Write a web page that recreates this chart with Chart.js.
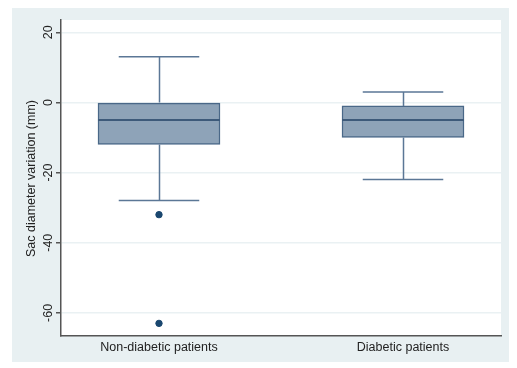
<!DOCTYPE html>
<html>
<head>
<meta charset="utf-8">
<script src="https://cdn.jsdelivr.net/npm/chart.js@4"></script>
<style>
  html, body { margin: 0; padding: 0; background: #ffffff; }
  #panel {
    position: absolute; left: 12px; top: 8px;
    width: 497px; height: 354px;
    background: #e8f0f2;
  }
</style>
</head>
<body>
<div id="panel"><canvas id="boxChart" width="497" height="354"></canvas></div>
<script>
// Data
const groups = ['Non-diabetic patients', 'Diabetic patients'];
const whiskerLow = [-28, -22];
const quartile1 = [-12, -10];
const medians = [-5, -5];
const quartile3 = [0, -1];
const whiskerHigh = [13, 3];
const outlierGroup = [0, 0];
const outlierValues = [-32, -63];
const yTicks = [20, 0, -20, -40, -60];
const yTitle = 'Sac diameter variation (mm)';

const boxLine = '#4a6888';
const boxFill = '#8ea3b8';
const dotColor = '#1a476f';

// Whiskers, caps and median lines drawn through the scales
const boxPlotLines = {
    id: 'boxPlotLines',
    afterDatasetsDraw(chart) {
        const ctx = chart.ctx;
        const x = chart.scales.x;
        const y = chart.scales.y;
        ctx.save();
        groups.forEach((g, i) => {
            const cx = Math.round(x.getPixelForValue(i)) + 0.5;
            const capL = x.getPixelForValue(i - 0.165);
            const capR = x.getPixelForValue(i + 0.165);
            ctx.strokeStyle = '#5b7796';
            ctx.lineWidth = 1.5;
            ctx.beginPath();
            // upper whisker
            ctx.moveTo(cx, y.getPixelForValue(quartile3[i]));
            ctx.lineTo(cx, y.getPixelForValue(whiskerHigh[i]));
            ctx.moveTo(capL, y.getPixelForValue(whiskerHigh[i]));
            ctx.lineTo(capR, y.getPixelForValue(whiskerHigh[i]));
            // lower whisker
            ctx.moveTo(cx, y.getPixelForValue(quartile1[i]));
            ctx.lineTo(cx, y.getPixelForValue(whiskerLow[i]));
            ctx.moveTo(capL, y.getPixelForValue(whiskerLow[i]));
            ctx.lineTo(capR, y.getPixelForValue(whiskerLow[i]));
            ctx.stroke();
            // median
            ctx.strokeStyle = '#3d5a7a';
            ctx.lineWidth = 2;
            ctx.beginPath();
            ctx.moveTo(x.getPixelForValue(i - 0.25), y.getPixelForValue(medians[i]));
            ctx.lineTo(x.getPixelForValue(i + 0.25), y.getPixelForValue(medians[i]));
            ctx.stroke();
        });
        ctx.restore();
    },
    afterDraw(chart) {
        // rotated y tick labels and axis title, Stata style
        const ctx = chart.ctx;
        const y = chart.scales.y;
        ctx.save();
        ctx.fillStyle = '#222';
        ctx.font = '12.5px "Liberation Sans", Arial, sans-serif';
        ctx.textAlign = 'center';
        ctx.textBaseline = 'middle';
        yTicks.forEach(v => {
            ctx.save();
            ctx.translate(37, y.getPixelForValue(v));
            ctx.rotate(-Math.PI / 2);
            ctx.fillText(String(v), 0, 0);
            ctx.restore();
        });
        ctx.font = '12.5px "Liberation Sans", Arial, sans-serif';
        ctx.translate(20, y.getPixelForValue(-21.7));
        ctx.rotate(-Math.PI / 2);
        ctx.fillText(yTitle, 0, 0);
        ctx.restore();
    }
};

const plotBg = {
    id: 'plotBg',
    beforeDraw(chart) {
        const a = chart.chartArea;
        chart.ctx.save();
        chart.ctx.fillStyle = '#ffffff';
        chart.ctx.fillRect(a.left, a.top, a.right - a.left, a.bottom - a.top);
        chart.ctx.restore();
    }
};

const ctx = document.getElementById('boxChart').getContext('2d');
new Chart(ctx, {
    type: 'bar',
    data: {
        datasets: [{
            label: 'IQR',
            data: groups.map((g, i) => ({ x: i, y: [quartile1[i], quartile3[i]] })),
            backgroundColor: boxFill,
            borderColor: boxLine,
            borderWidth: 1.5,
            borderSkipped: false,
            barThickness: 122,
            order: 2
        }, {
            type: 'scatter',
            label: 'Outliers',
            data: outlierValues.map((v, i) => ({ x: outlierGroup[i], y: v })),
            backgroundColor: dotColor,
            borderColor: dotColor,
            pointRadius: 3.2,
            order: 1
        }]
    },
    options: {
        responsive: false,
        animation: false,
        layout: { padding: { top: 12, right: 8, left: 0, bottom: 0 } },
        plugins: { legend: { display: false }, tooltip: { enabled: false } },
        scales: {
            x: {
                type: 'linear',
                offset: false,
                min: -0.4016,
                max: 1.4016,
                afterBuildTicks: s => { s.ticks = groups.map((g, i) => ({ value: i })); },
                afterFit: s => { s.height = 26; },
                grid: { display: false, offset: false, drawTicks: false },
                border: { display: true, color: '#555', width: 1.5 },
                ticks: {
                    color: '#222',
                    padding: 4,
                    maxRotation: 0,
                    font: { family: '"Liberation Sans", Arial, sans-serif', size: 12.5 },
                    callback: v => groups[v]
                }
            },
            y: {
                min: -66.6,
                max: 23.5,
                afterBuildTicks: s => { s.ticks = yTicks.map(v => ({ value: v })); },
                afterFit: s => { s.width = 49; },
                grid: { color: '#eaf1f3', lineWidth: 1.5, tickColor: '#555', tickLength: 5 },
                border: { display: true, color: '#555', width: 1.5 },
                ticks: { display: false }
            }
        }
    },
    plugins: [plotBg, boxPlotLines]
});
</script>
</body>
</html>
